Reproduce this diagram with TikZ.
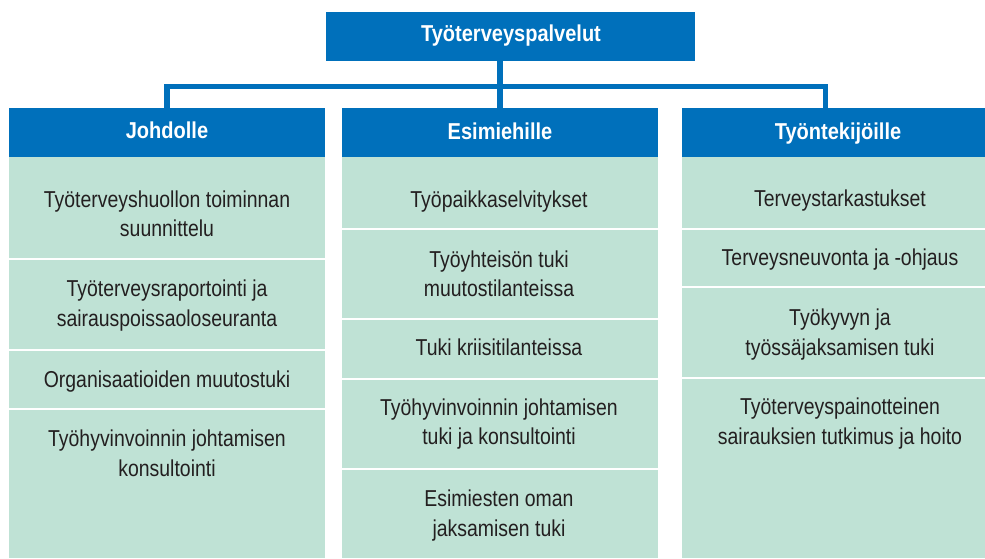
\documentclass[tikz,border=0pt]{standalone}
\usepackage{fontspec}
\setmainfont{Liberation Sans}[FakeStretch=0.845, BoldFeatures={FakeStretch=0.87}]
\usetikzlibrary{fit}
\definecolor{fhblue}{RGB}{0,112,187}
\definecolor{fhgreen}{RGB}{191,226,213}
\definecolor{fhtext}{RGB}{35,31,32}
\begin{document}
\begin{tikzpicture}[x=1pt,y=-1pt,
  headbox/.style={fill=fhblue, inner sep=0pt},
  headtext/.style={anchor=base, inner sep=0pt, text=white,
    font=\fontsize{23}{28}\selectfont\bfseries},
  cellbox/.style={fill=fhgreen, inner sep=0pt},
  celltext/.style={anchor=base, align=center, inner sep=0pt, text=fhtext,
    font=\fontsize{23}{29.5}\selectfont},
  conn/.style={draw=fhblue, line width=5.5pt, line join=miter}]
\useasboundingbox (0,0) rectangle (985,558);
\clip (0,0) rectangle (985,558);

% top and headers
\node[headbox, fit={(326,12) (695,61)}] (top) {};
\node[headtext] (topt) at (511,41.7) {Työterveyspalvelut};
\node[headbox, fit={(9,108) (325,157)}] (joh) {};
\node[headtext] (joht) at (167,138.5) {Johdolle};
\node[headbox, fit={(342,108) (658,157)}] (esi) {};
\node[headtext] (esit) at (500,139) {Esimiehille};
\node[headbox, fit={(682,108) (998,157)}] (tyo) {};
\node[headtext] (tyot) at (838,139.5) {Työntekijöille};

% connectors
\coordinate (bus) at (0,86.5);
\coordinate (tyoc) at ([xshift=-14.5pt]tyo.north);
\draw[conn] (top.south -| esi.north) -- (esi.north);
\draw[conn] (joh.north) |- (bus -| tyoc) -- (tyoc);

% Johdolle column
\node[cellbox, fit={(9,157) (325,258)}] (j1) {};
\node[celltext] (j1t) at (167,236.5) {Työterveyshuollon toiminnan\\suunnittelu};
\node[cellbox, fit={(9,260) (325,349)}] (j2) {};
\node[celltext] (j2t) at (167,326) {Työterveysraportointi ja\\sairauspoissaoloseuranta};
\node[cellbox, fit={(9,351) (325,408)}] (j3) {};
\node[celltext] (j3t) at (167,387) {Organisaatioiden muutostuki};
\node[cellbox, fit={(9,410) (325,558)}] (j4) {};
\node[celltext] (j4t) at (167,476) {Työhyvinvoinnin johtamisen\\konsultointi};

% Esimiehille column
\node[cellbox, fit={(342,157) (658,228)}] (m1) {};
\node[celltext] (m1t) at (499,207.3) {Työpaikkaselvitykset};
\node[cellbox, fit={(342,230) (658,318)}] (m2) {};
\node[celltext] (m2t) at (499,296.5) {Työyhteisön tuki\\muutostilanteissa};
\node[cellbox, fit={(342,320) (658,378)}] (m3) {};
\node[celltext] (m3t) at (499,355.5) {Tuki kriisitilanteissa};
\node[cellbox, fit={(342,380) (658,468)}] (m4) {};
\node[celltext] (m4t) at (499,444.5) {Työhyvinvoinnin johtamisen\\tuki ja konsultointi};
\node[cellbox, fit={(342,470) (658,558)}] (m5) {};
\node[celltext] (m5t) at (499,536) {Esimiesten oman\\jaksamisen tuki};

% Työntekijöille column
\node[cellbox, fit={(682,157) (998,228)}] (r1) {};
\node[celltext] (r1t) at (840,206) {Terveystarkastukset};
\node[cellbox, fit={(682,230) (998,286)}] (r2) {};
\node[celltext] (r2t) at (840,265.5) {Terveysneuvonta ja -ohjaus};
\node[cellbox, fit={(682,288) (998,377)}] (r3) {};
\node[celltext] (r3t) at (840,355) {Työkyvyn ja\\työssäjaksamisen tuki};
\node[cellbox, fit={(682,379) (998,558)}] (r4) {};
\node[celltext] (r4t) at (840,444) {Työterveyspainotteinen\\sairauksien tutkimus ja hoito};
\end{tikzpicture}
\end{document}
